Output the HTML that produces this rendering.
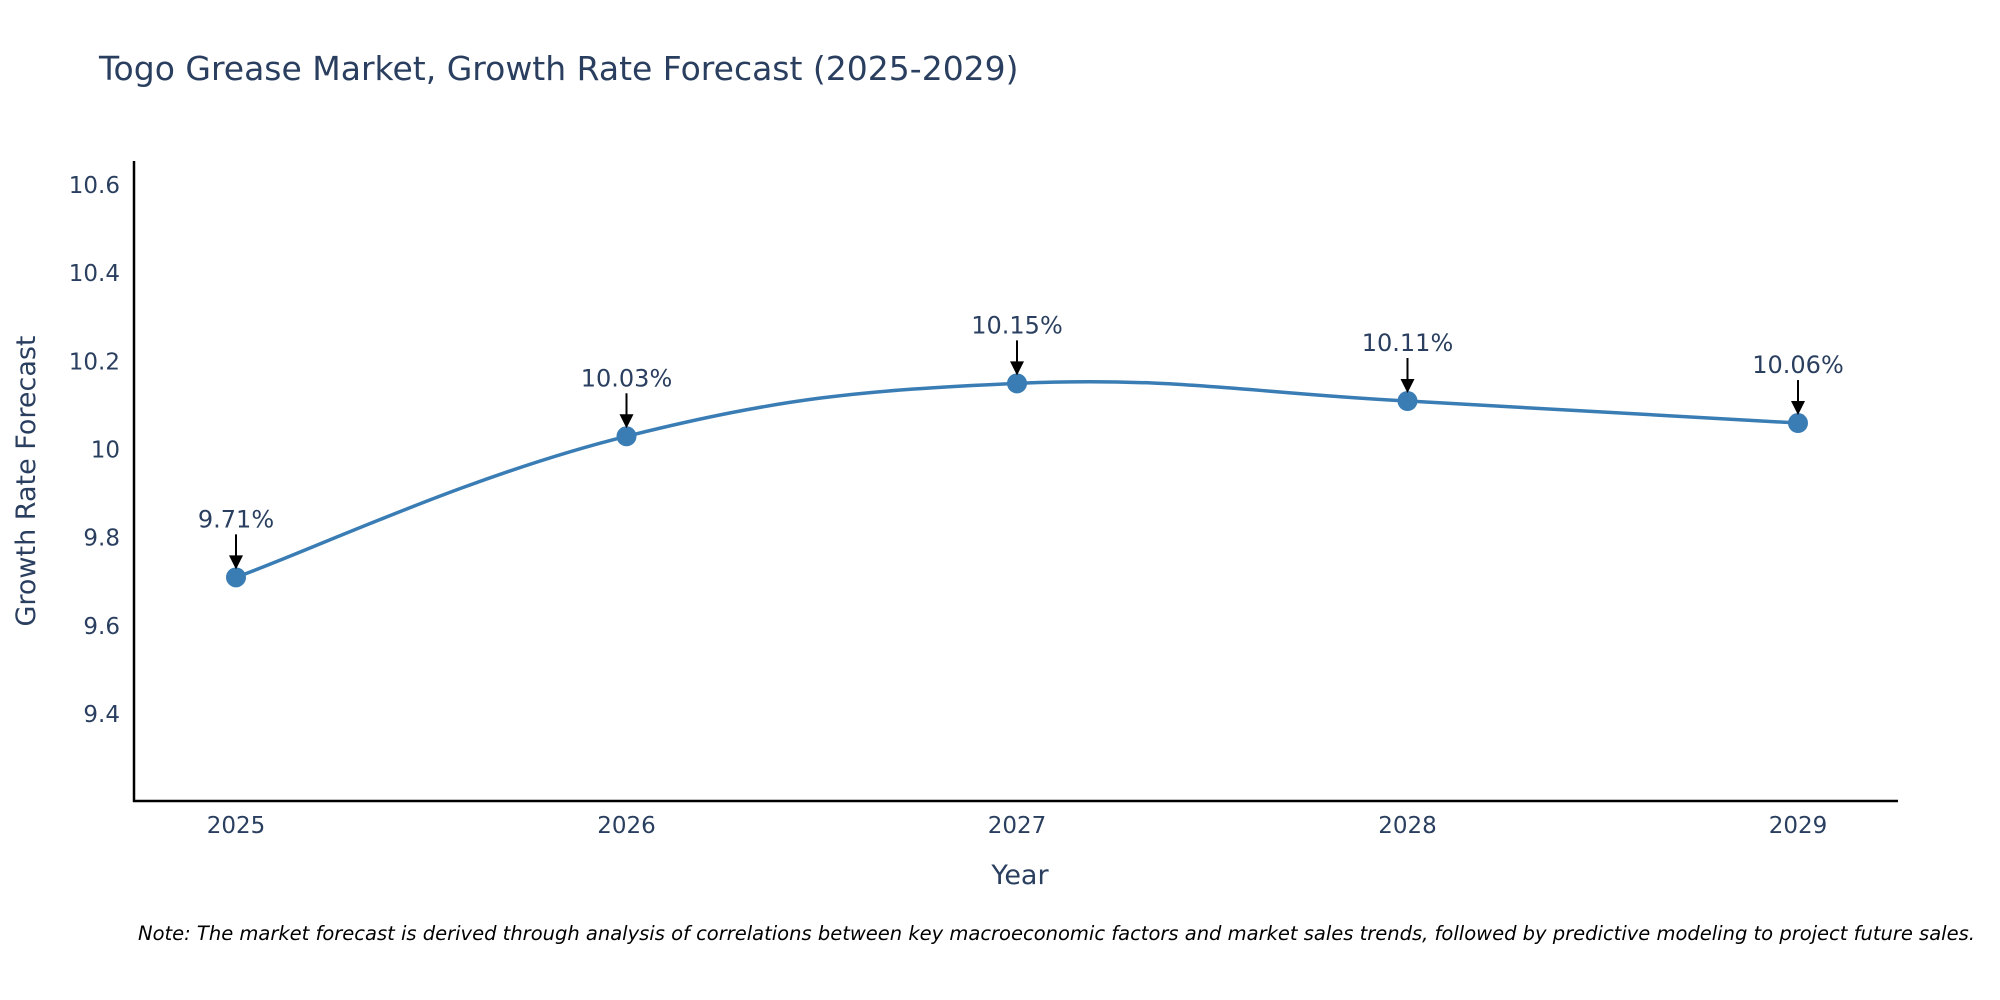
<!DOCTYPE html>
<html><head><meta charset="utf-8"><style>
html,body{margin:0;padding:0;background:#fff;}
svg{display:block;font-family:"DejaVu Sans","Liberation Sans",sans-serif;}
</style></head><body>
<svg id="chart" width="2000" height="1000" viewBox="0 0 2000 1000" xmlns="http://www.w3.org/2000/svg">
<rect width="2000" height="1000" fill="#fff"/>
<text x="99" y="80" font-size="33" fill="#2a3f5f">Togo Grease Market, Growth Rate Forecast (2025-2029)</text>
<g id="yticks"></g>
<g id="xticks"></g>
<line x1="134" y1="161" x2="134" y2="802" stroke="#000" stroke-width="2.5"/>
<line x1="133" y1="801" x2="1898" y2="801" stroke="#000" stroke-width="2.5"/>
<text transform="translate(35,481) rotate(-90)" text-anchor="middle" font-size="27" fill="#2a3f5f">Growth Rate Forecast</text>
<text x="1020" y="884" text-anchor="middle" font-size="27" fill="#2a3f5f">Year</text>
<path id="line" fill="none" stroke="#3a7db5" stroke-width="3.5"/>
<g id="points"></g>
<g id="annots"></g>
<text x="138" y="940" font-size="19.5" font-style="italic" fill="#000">Note: The market forecast is derived through analysis of correlations between key macroeconomic factors and market sales trends, followed by predictive modeling to project future sales.</text>
</svg>
<script>
const years = [2025, 2026, 2027, 2028, 2029];
const values = [9.71, 10.03, 10.15, 10.11, 10.06];
const valueLabels = ["9.71%", "10.03%", "10.15%", "10.11%", "10.06%"];
const yTickValues = [9.4, 9.6, 9.8, 10, 10.2, 10.4, 10.6];
const yTickLabels = ["9.4", "9.6", "9.8", "10", "10.2", "10.4", "10.6"];

const NS = "http://www.w3.org/2000/svg";
function xs(v){ return 236 + (v - 2025) * (1798 - 236) / 4; }
function ys(v){ return 714 - (v - 9.4) * (714 - 185) / 1.2; }
function mk(tag, attrs, parent){ const e = document.createElementNS(NS, tag); for (const k in attrs) e.setAttribute(k, attrs[k]); parent.appendChild(e); return e; }

const yt = document.getElementById('yticks');
yTickValues.forEach((v, i) => {
  const t = mk('text', {x: 120, y: ys(v) + 8, 'text-anchor': 'end', 'font-size': 23, fill: '#2a3f5f'}, yt);
  
  
  t.textContent = yTickLabels[i];
});
const xt = document.getElementById('xticks');
years.forEach(y => {
  const t = mk('text', {x: xs(y), y: 833, 'text-anchor': 'middle', 'font-size': 23, fill: '#2a3f5f'}, xt);
  
  
  t.textContent = y;
});

const pts = years.map((y, i) => [xs(y), ys(values[i])]);
let d = `M${pts[0][0]},${pts[0][1]}`;
const s = 0.2;
for (let i = 0; i < pts.length - 1; i++) {
  const p0 = pts[Math.max(0, i - 1)], p1 = pts[i], p2 = pts[i + 1], p3 = pts[Math.min(pts.length - 1, i + 2)];
  const c1 = [p1[0] + (p2[0] - p0[0]) * s, p1[1] + (p2[1] - p0[1]) * s];
  const c2 = [p2[0] - (p3[0] - p1[0]) * s, p2[1] - (p3[1] - p1[1]) * s];
  d += ` C${c1[0]},${c1[1]} ${c2[0]},${c2[1]} ${p2[0]},${p2[1]}`;
}
document.getElementById('line').setAttribute('d', d);

const pg = document.getElementById('points');
const ag = document.getElementById('annots');
pts.forEach((p, i) => {
  const c = mk('circle', {cx: p[0], cy: p[1], r: 10, fill: '#3a7db5'}, pg);
  
  
  const l = mk('line', {x1: p[0], y1: p[1] - 43, x2: p[0], y2: p[1] - 20, stroke: '#000', 'stroke-width': 2}, ag);
  
  
  const h = mk('polygon', {points: `${p[0]-7},${p[1]-22} ${p[0]+7},${p[1]-22} ${p[0]},${p[1]-8}`, fill: '#000'}, ag);
  
  
  const t = mk('text', {x: p[0], y: p[1] - 50, 'text-anchor': 'middle', 'font-size': 24, fill: '#2a3f5f'}, ag);
  
  
  t.textContent = valueLabels[i];
});
</script>
</body></html>
